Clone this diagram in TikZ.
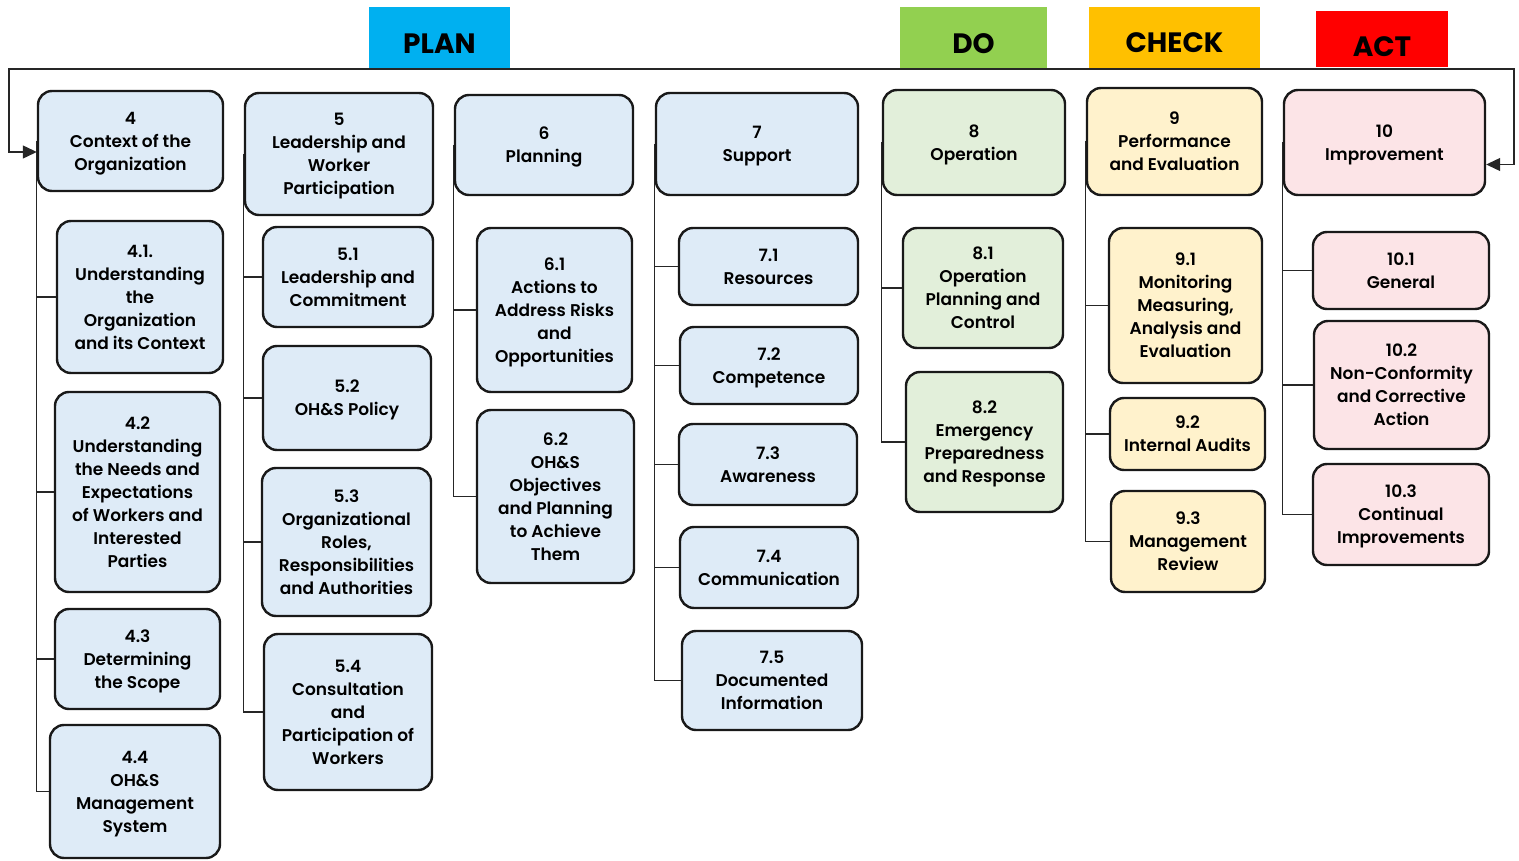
\documentclass[tikz,border=0pt]{standalone}
\usepackage{fontspec}
\setmainfont{Poppins}[UprightFont=* SemiBold, BoldFont=* Bold]
\usetikzlibrary{arrows.meta}

\definecolor{plancol}{RGB}{0,176,240}
\definecolor{docol}{RGB}{146,208,80}
\definecolor{checkcol}{RGB}{255,192,0}
\definecolor{actcol}{RGB}{255,0,0}
\definecolor{planfill}{RGB}{222,235,247}
\definecolor{dofill}{RGB}{226,239,218}
\definecolor{checkfill}{RGB}{255,242,204}
\definecolor{actfill}{RGB}{252,228,231}

\begin{document}
\begin{tikzpicture}[x=1pt,y=-1pt,
    box/.style={draw=black!90, line width=2.4pt, rounded corners=14pt, inner sep=0pt,
                align=center, text depth=-7pt, font=\fontsize{17}{23}\selectfont},
    pbox/.style={box, fill=planfill},
    dbox/.style={box, fill=dofill},
    cbox/.style={box, fill=checkfill},
    abox/.style={box, fill=actfill},
    hdr/.style={inner sep=0pt, text height=30pt, text depth=0pt, font=\fontsize{28}{30}\selectfont\bfseries},
    conn/.style={draw=black!85, line width=1.2pt},
    loop/.style={draw=black!85, line width=1.2pt, {Triangle[length=14pt,width=13pt]}-{Triangle[length=14pt,width=13pt]}}]
    \useasboundingbox (0,0) rectangle (1519,861);

    % phase headers
    \node[hdr, fill=plancol, minimum width=141pt, minimum height=63pt] (plan) at (439.5,38.5) {PLAN};
    \node[hdr, fill=docol, minimum width=147pt, minimum height=63pt] (do) at (973.5,38.5) {DO};
    \node[hdr, fill=checkcol, minimum width=171pt, minimum height=61pt] (check) at (1174.5,37.5) {CHECK};
    \node[hdr, fill=actcol, minimum width=132pt, minimum height=56pt, text height=36pt] (act) at (1382,39) {ACT};

    % clause 4
    \node[pbox, minimum width=185pt, minimum height=100pt] (n4) at (130.5,141) {4\\Context of the\\Organization};
    \node[pbox, minimum width=166pt, minimum height=152pt] (s41) at (140,297) {4.1.\\Understanding\\the\\Organization\\and its Context};
    \node[pbox, minimum width=165pt, minimum height=200pt] (s42) at (137.5,492) {4.2\\Understanding\\the Needs and\\Expectations\\of Workers and\\Interested\\Parties};
    \node[pbox, minimum width=165pt, minimum height=100pt] (s43) at (137.5,659) {4.3\\Determining\\the Scope};
    \node[pbox, minimum width=170pt, minimum height=133pt] (s44) at (135,791.5) {4.4\\OH\&S\\Management\\System};

    % clause 5
    \node[pbox, minimum width=188pt, minimum height=122pt] (n5) at (339,154) {5\\Leadership and\\Worker\\Participation};
    \node[pbox, minimum width=170pt, minimum height=100pt] (s51) at (348,277) {5.1\\Leadership and\\Commitment};
    \node[pbox, minimum width=168pt, minimum height=104pt] (s52) at (347,398) {5.2\\OH\&S Policy};
    \node[pbox, minimum width=169pt, minimum height=148pt] (s53) at (346.5,542) {5.3\\Organizational\\Roles,\\Responsibilities\\and Authorities};
    \node[pbox, minimum width=168pt, minimum height=156pt] (s54) at (348,712) {5.4\\Consultation\\and\\Participation of\\Workers};

    % clause 6
    \node[pbox, minimum width=178pt, minimum height=100pt] (n6) at (544,145) {6\\Planning};
    \node[pbox, minimum width=155pt, minimum height=164pt] (s61) at (554.5,310) {6.1\\Actions to\\Address Risks\\and\\Opportunities};
    \node[pbox, minimum width=157pt, minimum height=173pt] (s62) at (555.5,496.5) {6.2\\OH\&S\\Objectives\\and Planning\\to Achieve\\Them};

    % clause 7
    \node[pbox, minimum width=202pt, minimum height=102pt] (n7) at (757,144) {7\\Support};
    \node[pbox, minimum width=179pt, minimum height=77pt] (s71) at (768.5,266.5) {7.1\\Resources};
    \node[pbox, minimum width=178pt, minimum height=77pt] (s72) at (769,365.5) {7.2\\Competence};
    \node[pbox, minimum width=178pt, minimum height=81pt] (s73) at (768,464.5) {7.3\\Awareness};
    \node[pbox, minimum width=178pt, minimum height=81pt] (s74) at (769,567.5) {7.4\\Communication};
    \node[pbox, minimum width=180pt, minimum height=99pt] (s75) at (772,680.5) {7.5\\Documented\\Information};

    % clause 8
    \node[dbox, minimum width=182pt, minimum height=105pt] (n8) at (974,142.5) {8\\Operation};
    \node[dbox, minimum width=160pt, minimum height=120pt] (s81) at (983,288) {8.1\\Operation\\Planning and\\Control};
    \node[dbox, minimum width=157pt, minimum height=140pt] (s82) at (984.5,442) {8.2\\Emergency\\Preparedness\\and Response};

    % clause 9
    \node[cbox, minimum width=175pt, minimum height=107pt] (n9) at (1174.5,141.5) {9\\Performance\\and Evaluation};
    \node[cbox, minimum width=153pt, minimum height=155pt] (s91) at (1185.5,305.5) {9.1\\Monitoring\\Measuring,\\Analysis and\\Evaluation};
    \node[cbox, minimum width=155pt, minimum height=72pt] (s92) at (1187.5,434) {9.2\\Internal Audits};
    \node[cbox, minimum width=154pt, minimum height=101pt] (s93) at (1188,541.5) {9.3\\Management\\Review};

    % clause 10
    \node[abox, minimum width=201pt, minimum height=105pt] (n10) at (1384.5,142.5) {10\\Improvement};
    \node[abox, minimum width=176pt, minimum height=77pt] (s101) at (1401,270.5) {10.1\\General};
    \node[abox, minimum width=175pt, minimum height=128pt] (s102) at (1401.5,385) {10.2\\Non-Conformity\\and Corrective\\Action};
    \node[abox, minimum width=176pt, minimum height=101pt] (s103) at (1401,514.5) {10.3\\Continual\\Improvements};

    % PDCA loop
    \coordinate (loopL) at (9,69);
    \coordinate (loopR) at (1514,69);
    \draw[loop] ([yshift=-11pt]n4.west) -| (loopL) -- (loopR) |- ([yshift=-22pt]n10.east);

    % tree lines
    \draw[conn] (n4.west) |- (s44.west);
    \draw[conn] (n4.west |- s41.west) -- (s41.west);
    \draw[conn] (n4.west |- s42.west) -- (s42.west);
    \draw[conn] (n4.west |- s43.west) -- (s43.west);

    \draw[conn] (n5.west) |- (s54.west);
    \draw[conn] (n5.west |- s51.west) -- (s51.west);
    \draw[conn] (n5.west |- s52.west) -- (s52.west);
    \draw[conn] (n5.west |- s53.west) -- (s53.west);

    \draw[conn] (n6.west) |- (s62.west);
    \draw[conn] (n6.west |- s61.west) -- (s61.west);

    \draw[conn] (n7.west) |- (s75.west);
    \draw[conn] (n7.west |- s71.west) -- (s71.west);
    \draw[conn] (n7.west |- s72.west) -- (s72.west);
    \draw[conn] (n7.west |- s73.west) -- (s73.west);
    \draw[conn] (n7.west |- s74.west) -- (s74.west);

    \draw[conn] (n8.west) |- (s82.west);
    \draw[conn] (n8.west |- s81.west) -- (s81.west);

    \draw[conn] (n9.west) |- (s93.west);
    \draw[conn] (n9.west |- s91.west) -- (s91.west);
    \draw[conn] (n9.west |- s92.west) -- (s92.west);

    \draw[conn] (n10.west) |- (s103.west);
    \draw[conn] (n10.west |- s101.west) -- (s101.west);
    \draw[conn] (n10.west |- s102.west) -- (s102.west);
\end{tikzpicture}
\end{document}
